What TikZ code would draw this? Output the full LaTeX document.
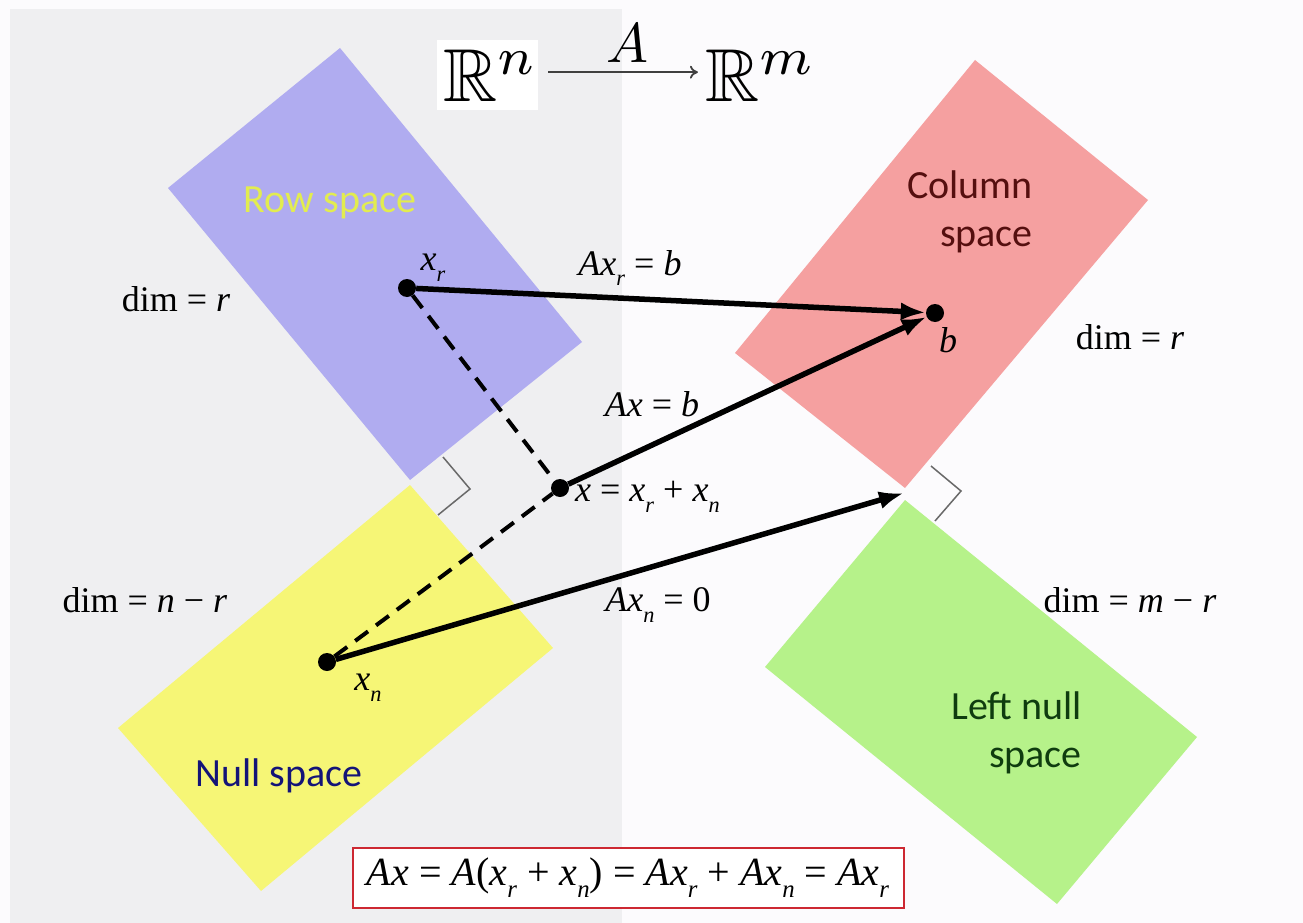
\documentclass[tikz,border=0pt]{standalone}
\usepackage{amssymb}
\usepackage{graphicx}
\usepackage{fontspec}
\setmainfont{Liberation Serif}
\newfontfamily\carlito{Carlito}
\usetikzlibrary{arrows.meta}
\newcommand\isub[1]{\raisebox{-0.3em}{\scalebox{0.62}{\textit{#1}}}}
\newcommand\iv[1]{\textit{#1}}
\definecolor{bggray}{RGB}{239,239,241}
\definecolor{bgwhite}{RGB}{252,251,253}
\definecolor{rowc}{RGB}{176,172,240}
\definecolor{colc}{RGB}{245,160,160}
\definecolor{nullc}{RGB}{246,246,118}
\definecolor{lnullc}{RGB}{182,242,138}
\definecolor{rowtxt}{RGB}{226,236,80}
\definecolor{coltxt}{RGB}{85,15,15}
\definecolor{nulltxt}{RGB}{20,20,120}
\definecolor{lnulltxt}{RGB}{15,60,15}
\definecolor{boxred}{RGB}{205,40,50}
\definecolor{markgray}{RGB}{105,105,105}
\begin{document}
\begin{tikzpicture}[x=1pt,y=-1pt,
  lab/.style={font=\fontsize{36}{40}\selectfont, inner sep=0pt},
  slab/.style={font=\carlito\fontsize{40}{48}\selectfont, inner sep=0pt},
  dot/.style={circle, fill=black, inner sep=0pt, minimum size=18pt},
  arr/.style={line width=5.5pt, -{Latex[length=25pt,width=18pt]}},
  dashln/.style={line width=4pt, dash pattern=on 16pt off 10pt},
  rtmark/.style={draw=markgray, line width=1.5pt},
  titlearr/.style={draw=black!75, line width=1.8pt, -{To[length=8pt,width=13pt]}}]
\useasboundingbox (0,0) rectangle (1303,923);
\fill[bgwhite] (0,0) rectangle (1303,923);
\fill[bggray] (10,9) rectangle (622,923);
\fill[white] (437,40) rectangle (538,110);
% subspace rectangles
\fill[rowc] (340,48) -- (582,342) -- (410,480) -- (168,188) -- cycle;
\fill[colc] (975,60) -- (1148,200) -- (905,488) -- (735,353) -- cycle;
\fill[nullc] (410,485) -- (553,648) -- (261,891) -- (118,728) -- cycle;
\fill[lnullc] (905,500) -- (1197,737) -- (1057,904) -- (765,667) -- cycle;
% right angle marks
\draw[rtmark] (443,457) -- (470,489) -- (438,515);
\draw[rtmark] (931,466) -- (961,491) -- (935,521);
% title
\node[inner sep=0pt, scale=7.5, anchor=base] (Rn) at (491,102) {$\mathbb{R}^n$};
\node[inner sep=0pt, scale=7.5, anchor=base] (Rm) at (761,102) {$\mathbb{R}^m$};
\node[inner sep=0pt, scale=5.6, anchor=base] (Amap) at (627,63) {$A$};
\draw[titlearr] ([xshift=8pt,yshift=4pt]Rn.east) -- ([xshift=-6pt,yshift=4pt]Rm.west);
% space names
\node[slab, text=rowtxt] (rowlab) at (330,203) {Row space};
\node[slab, text=coltxt, align=right, anchor=east] (collab) at (1033,212) {Column\\space};
\node[slab, text=nulltxt] (nulllab) at (279,776) {Null space};
\node[slab, text=lnulltxt, align=right, anchor=east] (lnulllab) at (1082,733) {Left null\\space};
% dimensions
\node[lab] (dimrow) at (176,299) {dim = \iv{r}};
\node[lab] (dimcol) at (1130,337) {dim = \iv{r}};
\node[lab] (dimnull) at (145,600) {dim = \iv{n} − \iv{r}};
\node[lab] (dimlnull) at (1130,600) {dim = \iv{m} − \iv{r}};
% points
\node[dot] (xr) at (407,288) {};
\node[dot] (b) at (935,313) {};
\node[dot] (x) at (560,488) {};
\node[dot] (xn) at (327,662) {};
\coordinate (corner) at (904,493);
\node[lab] (xrlab) at (433,268) {\iv{x}\isub{r}};
\node[lab] (blab) at (948,340) {\iv{b}};
\node[lab] (xnlab) at (368,688) {\iv{x}\isub{n}};
% lines
\draw[dashln] (xr) -- (x);
\draw[dashln] (xn) -- (x);
\draw[arr] (xr) -- (b);
\draw[arr] (x) -- (b);
\draw[arr] (xn) -- (corner);
% arrow labels
\node[lab] (l1) at (630,268) {\iv{Ax}\isub{r} = \iv{b}};
\node[lab] (l2) at (652,404) {\iv{Ax} = \iv{b}};
\node[lab, anchor=west] (l3) at (575,497) {\iv{x} = \iv{x}\isub{r} + \iv{x}\isub{n}};
\node[lab] (l4) at (658,605) {\iv{Ax}\isub{n} = 0};
% formula box
\node[draw=boxred, line width=2pt, fill=white, minimum width=551pt, minimum height=60pt, inner sep=0pt,
  font=\fontsize{40}{42}\selectfont] (formula) at (628,878)
  {\iv{Ax} = \iv{A}(\iv{x}\isub{r} + \iv{x}\isub{n}) = \iv{Ax}\isub{r} + \iv{Ax}\isub{n} = \iv{Ax}\isub{r}};
\end{tikzpicture}
\end{document}
